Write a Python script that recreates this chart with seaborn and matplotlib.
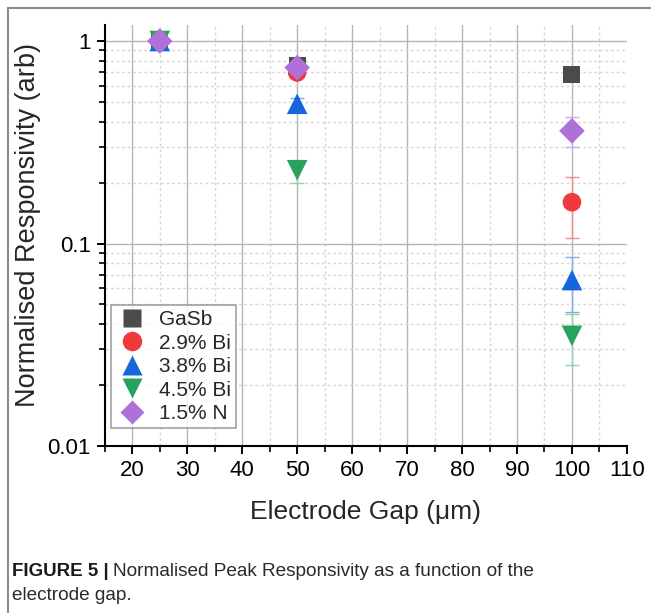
import numpy as np
import pandas as pd
import matplotlib
matplotlib.use("Agg")
import matplotlib.pyplot as plt
import matplotlib.ticker as mticker
from matplotlib.lines import Line2D
import seaborn as sns

# ---- data ----
gaps = [25, 50, 100]
samples = ["GaSb", "2.9% Bi", "3.8% Bi", "4.5% Bi", "1.5% N"]
gasb = [1.0, 0.76, 0.68]
bi29 = [1.0, 0.70, 0.16]
bi38 = [1.0, 0.49, 0.066]
bi45 = [1.0, 0.23, 0.035]
n15 = [1.0, 0.74, 0.36]
gasb_err = [0.02, 0.015, 0.0]
bi29_err = [0.02, 0.02, 0.053]
bi38_err = [0.02, 0.035, 0.02]
bi45_err = [0.02, 0.03, 0.01]
n15_err = [0.02, 0.02, 0.06]
x_ticks = [20, 30, 40, 50, 60, 70, 80, 90, 100, 110]
y_ticks = [0.01, 0.1, 1]
y_labels = ["0.01", "0.1", "1"]

values = [gasb, bi29, bi38, bi45, n15]
errors = [gasb_err, bi29_err, bi38_err, bi45_err, n15_err]

rows = []
for name, vals, errs in zip(samples, values, errors):
    for g, v, e in zip(gaps, vals, errs):
        rows.append({"gap": g, "resp": v, "err": e, "sample": name})
df = pd.DataFrame(rows)

colors = {"GaSb": "#4b4b4b", "2.9% Bi": "#f0393d", "3.8% Bi": "#1566da",
          "4.5% Bi": "#27a35e", "1.5% N": "#b070da"}
err_colors = {"GaSb": "#9a9a9a", "2.9% Bi": "#f58c8c", "3.8% Bi": "#7eaaf0",
              "4.5% Bi": "#8fd4aa", "1.5% N": "#d0aaee"}
markers = {"GaSb": "s", "2.9% Bi": "o", "3.8% Bi": "^", "4.5% Bi": "v", "1.5% N": "D"}
msizes = {"GaSb": 150, "2.9% Bi": 180, "3.8% Bi": 220, "4.5% Bi": 220, "1.5% N": 170}

sns.set_style("white")
plt.rcParams["font.family"] = ["Liberation Sans", "DejaVu Sans"]

fig = plt.figure(figsize=(6.51, 6.13), dpi=100)
ax = fig.add_axes([0.161, 0.2724, 0.802, 0.6868])

# error bars
for name in samples:
    sub = df[df["sample"] == name]
    ax.errorbar(sub["gap"], sub["resp"], yerr=sub["err"], fmt="none",
                ecolor=err_colors[name], elinewidth=1.0, capsize=5,
                capthick=1.0, zorder=2)

sns.scatterplot(data=df, x="gap", y="resp", hue="sample", style="sample",
                size="sample", sizes=msizes,
                palette=colors, markers=markers, linewidth=0,
                edgecolor="none", ax=ax, zorder=3, legend=False)

ax.set_yscale("log")
ax.set_xlim(15, 110)
ax.set_ylim(0.01, 1.2)

ax.set_xticks(x_ticks)
ax.xaxis.set_minor_locator(mticker.MultipleLocator(5))
ax.set_yticks(y_ticks)
ax.set_yticklabels(y_labels)
ax.yaxis.set_minor_locator(mticker.LogLocator(base=10, subs=np.arange(2, 10)))
ax.yaxis.set_minor_formatter(mticker.NullFormatter())

ax.tick_params(axis="both", which="major", direction="out", length=6, width=1.4,
               labelsize=16, colors="black", pad=4, left=True, bottom=True)
ax.tick_params(axis="both", which="minor", direction="out", length=4, width=1.2,
               colors="black", left=True, bottom=True)

ax.grid(True, which="major", color="#b5b5b5", linestyle="-", linewidth=1.0)
ax.grid(True, which="minor", color="#d6d6d6", linestyle=(0, (2, 2)), linewidth=1.0)
ax.set_axisbelow(True)
# no grid line on the right edge (x = 110)
ax.get_xgridlines()[-1].set_visible(False)

for side in ["top", "right"]:
    ax.spines[side].set_visible(False)
for side in ["left", "bottom"]:
    ax.spines[side].set_color("black")
    ax.spines[side].set_linewidth(1.5)

ax.set_xlabel("Electrode Gap (\u03bcm)", fontsize=19, labelpad=14)
ax.set_ylabel("Normalised Responsivity (arb)", fontsize=19.5)
ax.yaxis.set_label_coords(-0.122, 0.525)

handles = [Line2D([0], [0], marker=markers[n], color="none", markerfacecolor=colors[n],
                  markeredgecolor="none",
                  markersize={"s": 13, "o": 14, "^": 15, "v": 15, "D": 12}[markers[n]])
           for n in samples]
leg = ax.legend(handles, samples, loc="lower left", bbox_to_anchor=(0.012, 0.043),
                borderaxespad=0, fontsize=15, frameon=True, fancybox=False,
                edgecolor="#8a8a8a", labelspacing=0.22, handletextpad=0.5,
                borderpad=0.22, handlelength=1.6)
leg.get_frame().set_linewidth(1.2)

# outer frame lines (left and top)
fig.add_artist(Line2D([8 / 651, 8 / 651], [0, 1 - 8 / 613], transform=fig.transFigure,
                      color="#8c8c8c", linewidth=1.5))
fig.add_artist(Line2D([8 / 651, 1], [1 - 8 / 613, 1 - 8 / 613], transform=fig.transFigure,
                      color="#8c8c8c", linewidth=1.5))

# caption
t1 = fig.text(12 / 651, 1 - 576 / 613, "FIGURE 5 |", fontsize=13.5, fontweight="bold",
              ha="left", va="baseline", color="#1a1a1a")
fig.canvas.draw()
r = fig.canvas.get_renderer()
bb = t1.get_window_extent(renderer=r)
fig.text((bb.x1 + 4) / fig.bbox.width, 1 - 576 / 613,
         "Normalised Peak Responsivity as a function of the",
         fontsize=13.7, ha="left", va="baseline", color="#2a2a2a")
fig.text(12 / 651, 1 - 600 / 613, "electrode gap.", fontsize=13.7, ha="left",
         va="baseline", color="#2a2a2a")

fig.savefig("out.png", dpi=100)
